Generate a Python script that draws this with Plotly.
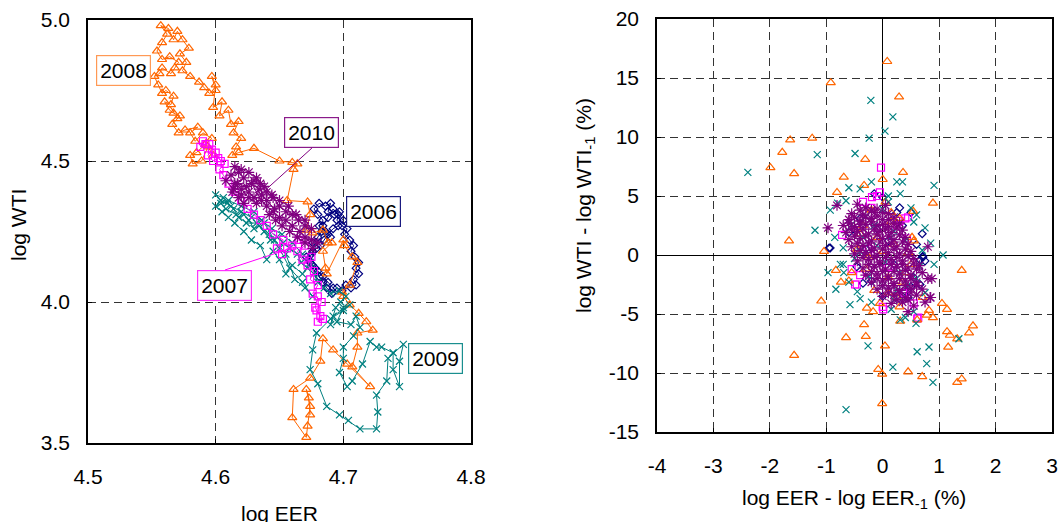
import plotly.graph_objects as go

# ---------------- data ----------------
# Left panel: daily (log EER, log WTI) paths, one per year
path_2006 = [(4.692,4.05),(4.688,4.07),(4.684,4.09),(4.680,4.11),(4.676,4.13),(4.673,4.15),(4.675,4.17),
             (4.679,4.19),(4.676,4.21),(4.680,4.23),(4.683,4.25),(4.681,4.27),(4.684,4.29),(4.680,4.31),
             (4.677,4.33),(4.681,4.35),(4.686,4.34),(4.690,4.35),(4.688,4.32),(4.693,4.31),(4.697,4.32),
             (4.695,4.29),(4.699,4.27),(4.703,4.26),(4.701,4.24),(4.705,4.22),(4.708,4.20),(4.706,4.18),
             (4.709,4.16),(4.712,4.14),(4.710,4.12),(4.712,4.10),(4.708,4.08),(4.710,4.06),(4.706,4.05),
             (4.702,4.06),(4.699,4.04),(4.695,4.05),(4.691,4.03),(4.687,4.05),(4.684,4.07),(4.681,4.09),
             (4.678,4.12),(4.674,4.14),(4.671,4.16),(4.676,4.18),(4.682,4.20),(4.685,4.22),(4.688,4.24),
             (4.692,4.26),(4.696,4.27),(4.700,4.29),(4.696,4.31),(4.692,4.33),(4.688,4.30),(4.684,4.27),
             (4.686,4.25),(4.690,4.23)]

path_2007 = [(4.680,4.02),(4.678,3.98),(4.682,3.95),(4.680,3.93),(4.684,3.94),(4.679,3.97),(4.683,4.00),
             (4.676,4.03),(4.680,4.06),(4.674,4.08),(4.677,4.11),(4.672,4.13),(4.675,4.16),(4.668,4.15),
             (4.664,4.18),(4.670,4.20),(4.665,4.22),(4.660,4.20),(4.656,4.19),(4.652,4.17),(4.648,4.19),
             (4.653,4.22),(4.645,4.24),(4.640,4.27),(4.635,4.29),(4.630,4.31),(4.625,4.33),(4.620,4.36),
             (4.615,4.39),(4.610,4.42),(4.606,4.45),(4.603,4.47),(4.607,4.49),(4.602,4.51),(4.598,4.50),
             (4.594,4.52),(4.597,4.54),(4.592,4.56),(4.588,4.55),(4.590,4.57),(4.595,4.56),(4.600,4.53),
             (4.604,4.50)]

path_2008 = [(4.598,4.52),(4.594,4.55),(4.589,4.50),(4.582,4.49),(4.580,4.52),(4.585,4.53),(4.592,4.56),
             (4.597,4.58),(4.590,4.60),(4.584,4.57),(4.580,4.60),(4.586,4.62),(4.576,4.61),(4.571,4.60),
             (4.566,4.63),(4.570,4.65),(4.572,4.66),(4.567,4.67),(4.564,4.68),(4.560,4.71),(4.565,4.70),
             (4.567,4.73),(4.561,4.75),(4.558,4.74),(4.555,4.77),(4.552,4.80),(4.556,4.81),(4.558,4.83),
             (4.565,4.81),(4.568,4.83),(4.571,4.85),(4.564,4.87),(4.558,4.86),(4.554,4.89),(4.558,4.92),
             (4.562,4.95),(4.557,4.98),(4.563,4.97),(4.567,4.93),(4.570,4.96),(4.574,4.93),(4.579,4.90),
             (4.572,4.88),(4.577,4.85),(4.574,4.82),(4.580,4.80),(4.587,4.78),(4.591,4.76),(4.595,4.74),
             (4.600,4.75),(4.597,4.80),(4.600,4.77),(4.598,4.69),(4.605,4.71),(4.603,4.66),(4.610,4.68),
             (4.612,4.63),(4.618,4.64),(4.614,4.60),(4.620,4.58),(4.616,4.55),(4.613,4.52),(4.618,4.53),
             (4.630,4.545),(4.650,4.50),(4.660,4.495),(4.664,4.49),(4.661,4.47),(4.656,4.36),(4.672,4.355),
             (4.674,4.31),(4.671,4.255),(4.676,4.245),(4.684,4.255),(4.688,4.21),(4.691,4.21),(4.684,4.18),
             (4.686,4.12),(4.687,4.10),(4.700,4.22),(4.701,4.20),(4.707,4.16),(4.711,4.14),(4.705,4.06),
             (4.699,4.035),(4.700,4.02),(4.705,3.99),(4.712,3.96),(4.718,3.93),(4.723,3.90),(4.711,3.89),
             (4.711,3.84),(4.707,3.77),(4.721,3.70),(4.703,3.78),(4.692,3.83),(4.684,3.87),(4.682,3.79),
             (4.674,3.73),(4.661,3.69),(4.660,3.59),(4.671,3.52),(4.672,3.56),(4.674,3.63),(4.671,3.69),
             (4.673,3.66),(4.674,3.60)]

path_2009 = [(4.700,3.97),(4.690,3.94),(4.679,3.89),(4.676,3.83),(4.674,3.76),(4.680,3.71),(4.687,3.63),
             (4.697,3.60),(4.704,3.58),(4.713,3.55),(4.726,3.55),(4.727,3.61),(4.726,3.67),(4.734,3.72),
             (4.735,3.80),(4.747,3.85),(4.744,3.79),(4.744,3.70),(4.739,3.76),(4.739,3.82),(4.730,3.84),
             (4.726,3.84),(4.721,3.86),(4.715,3.78),(4.707,3.72),(4.703,3.70),(4.697,3.75),(4.700,3.80),
             (4.700,3.84),(4.708,3.88),(4.713,3.91),(4.710,3.95),(4.706,3.92),(4.695,3.93),(4.700,3.98),
             (4.705,3.99),(4.692,3.95),(4.690,3.92),(4.694,3.98),(4.698,4.00),(4.702,4.02),(4.697,4.04),
             (4.690,4.03),(4.685,4.05),(4.680,4.07),(4.677,4.10),(4.672,4.12),(4.667,4.14),(4.664,4.17),
             (4.658,4.19),(4.653,4.21),(4.648,4.23),(4.643,4.22),(4.638,4.25),(4.634,4.27),(4.630,4.26),
             (4.626,4.29),(4.622,4.31),(4.618,4.30),(4.614,4.33),(4.609,4.35),(4.604,4.36),(4.600,4.38),
             (4.606,4.37),(4.612,4.34),(4.620,4.32),(4.628,4.30),(4.636,4.29),(4.644,4.26),(4.652,4.24),
             (4.660,4.21),(4.668,4.17),(4.674,4.14),(4.668,4.10),(4.660,4.13),(4.655,4.10),(4.650,4.15),
             (4.645,4.18),(4.640,4.15),(4.635,4.20),(4.628,4.22),(4.622,4.25),(4.615,4.28),(4.610,4.30),
             (4.605,4.32),(4.600,4.34),(4.610,4.36),(4.620,4.34),(4.630,4.32),(4.638,4.28),(4.646,4.22),
             (4.655,4.17),(4.662,4.08),(4.670,4.05),(4.676,4.02),(4.668,4.07),(4.658,4.12),(4.650,4.19),
             (4.642,4.24),(4.632,4.28),(4.624,4.28),(4.616,4.31),(4.608,4.33),(4.604,4.35)]

path_2010 = [(4.620,4.40),(4.615,4.42),(4.622,4.44),(4.618,4.46),(4.612,4.45),(4.608,4.43),(4.614,4.40),
             (4.620,4.38),(4.626,4.39),(4.630,4.37),(4.634,4.40),(4.628,4.42),(4.636,4.36),(4.640,4.34),
             (4.645,4.32),(4.650,4.30),(4.655,4.29),(4.660,4.27),(4.666,4.25),(4.670,4.23),(4.675,4.22),
             (4.680,4.21),(4.676,4.19),(4.670,4.21),(4.664,4.23),(4.658,4.25),(4.652,4.27),(4.647,4.29),
             (4.642,4.31),(4.646,4.33),(4.640,4.36),(4.636,4.38),(4.632,4.35),(4.626,4.37),(4.622,4.35),
             (4.618,4.37),(4.613,4.39),(4.617,4.42),(4.624,4.41),(4.630,4.43),(4.635,4.42),(4.640,4.39),
             (4.645,4.37),(4.650,4.34),(4.655,4.32),(4.660,4.31),(4.665,4.29),(4.670,4.27),(4.675,4.26),
             (4.670,4.29),(4.663,4.31),(4.657,4.34),(4.650,4.36),(4.644,4.38),(4.638,4.41),(4.632,4.44),
             (4.626,4.46),(4.620,4.47),(4.615,4.48)]

# Right panel: daily changes (dlog EER %, dlog WTI %)
chg_2006 = [(-0.95,0.6),(0.71,-0.1),(0.66,-2.5),(0.45,-3.6),(0.71,-0.2),(-0.93,0.6),(0.25,3.6),(-0.49,2.1),
            (-0.35,-2.4),(0.66,-0.4),(-0.46,-1.0),(0.00,4.9),(-0.60,1.9),(-0.40,3.1),(0.30,4.0),(0.50,3.6),
            (0.70,1.8),(0.60,0.9),(0.75,-0.5),(0.55,-1.9),(0.40,-3.1),(-0.20,-2.2),(-0.30,0.5),(0.10,1.2),
            (0.20,-0.8),(-0.10,2.2),(0.35,2.5),(0.00,-3.5),(0.50,-2.7),(-0.15,5.2)]

chg_2007 = [(-0.03,7.4),(-0.19,4.9),(-0.05,5.3),(0.40,3.1),(0.25,2.5),(0.43,1.4),(-0.40,-1.7),(-0.49,-2.5),
            (-0.72,1.7),(0.00,-4.4),(0.40,-3.2),(0.63,-5.3),(0.25,-3.6),(0.01,-4.6),(0.36,-3.2),(-0.46,-2.5),
            (0.61,-5.4),(-0.35,4.5),(-0.20,4.0),(0.45,3.2),(0.55,-4.1),(-0.25,0.5),(0.10,-1.0),(0.30,2.9),
            (-0.55,-1.2),(-0.10,5.0)]

chg_2008 = [(0.08,16.4),(-0.92,14.6),(0.29,13.4),(-1.64,9.75),(-1.25,9.9),(-1.78,8.7),(-1.99,7.4),(-1.57,6.9),
            (-0.31,8.1),(-0.69,6.6),(-0.81,5.3),(0.36,7.0),(0.89,4.4),(0.00,6.4),(-0.33,5.9),(-1.66,1.2),
            (-1.04,0.3),(0.54,3.7),(0.52,1.5),(1.40,-1.3),(-1.09,-3.9),(-1.57,-8.5),(-0.65,-7.0),(-0.33,-5.9),
            (-0.30,-6.9),(0.04,-7.7),(-0.08,-9.7),(-0.01,-10.1),(-0.01,-12.6),(0.45,-9.9),(0.70,-10.3),
            (1.32,-10.8),(1.40,-10.5),(1.16,-7.8),(1.14,-6.5),(1.19,-6.8),(1.32,-7.1),(1.53,-6.6),(1.60,-6.0),
            (1.05,-4.1),(1.14,-4.6),(0.82,-4.7),(0.89,-5.3),(0.78,-5.1),(0.31,-5.6),(0.61,-5.5),(0.71,-3.6),
            (-0.74,-2.3),(-0.83,-1.3),(-0.28,-4.5),(-0.17,-4.8),
            (-0.20,3.8),(0.05,4.5),(-0.35,2.5),(0.15,2.8),(0.30,3.1),(-0.10,1.5),(0.20,0.9),(-0.45,0.5),
            (0.45,0.2),(-0.55,-1.5),(-0.30,-1.2),(0.10,-1.9),(0.35,-2.3),(-0.15,-3.0),(0.25,-3.6),(-0.05,-4.1),
            (0.50,-0.8),(0.00,0.3),(-0.25,-0.2),(0.40,-1.5),(0.55,1.2),(-0.40,1.8),(0.10,-3.2),(0.15,3.6),
            (-0.60,-2.2),(0.30,-4.4)]

chg_2009 = [(-2.39,7.0),(-0.21,13.1),(0.18,11.7),(0.04,10.5),(-0.24,9.9),(-1.16,8.5),(-0.49,8.6),(0.91,5.9),
            (0.25,6.2),(0.31,5.2),(-0.60,5.7),(-1.20,2.1),(-0.93,3.8),(1.07,0.0),(-0.65,-13.1),(0.89,-10.8),
            (0.78,-9.2),(0.18,-9.5),(0.61,-8.2),(0.82,-7.8),(-0.26,-7.7),(1.35,-7.1),(0.59,-5.8),(0.31,-5.5),
            (-0.58,-4.2),(-0.40,-3.7),(-0.83,-2.9),(-0.97,-1.5),(-0.69,-1.5),(-0.70,-0.8),(0.91,-0.8),
            (-0.80,4.4),(-0.65,4.6),(-0.40,5.6),(-0.20,6.2),(0.10,5.0),(0.35,6.2),(0.50,4.0),(0.60,3.4),
            (0.75,2.3),(0.85,1.0),(0.70,0.4),(0.60,-2.0),(0.75,-3.2),(0.55,-4.8),(0.40,-5.3),(0.15,-4.6),
            (-0.20,-4.0),(-0.45,-3.1),(-0.60,-2.3),(-0.75,-0.8),(-0.70,0.6),(-0.85,1.5),(-0.55,2.6),
            (-0.30,3.3),(0.00,3.9),(0.20,2.0),(0.40,1.2),(-0.10,0.8),(0.05,-0.6),(0.30,-1.5),(-0.25,-1.8),
            (0.25,-3.0),(-0.35,1.5),(0.10,4.5),(0.55,2.8),(-0.50,-0.3),(0.45,-2.6),(0.20,-3.8),(-0.15,2.5),
            (0.65,-1.0),(0.35,-3.7),(0.00,-2.6),(-0.40,0.3),(0.15,1.5)]

chg_2010 = [(-0.97,2.3),(0.80,0.7),(0.87,-2.0),(0.84,-3.6),(-0.81,4.2),
            (-0.45,4.3),(-0.30,4.0),(-0.10,3.9),(0.05,4.2),(-0.55,3.5),(-0.35,3.4),(-0.15,3.6),(0.10,3.5),
            (-0.60,3.0),(-0.40,2.9),(-0.20,3.1),(0.00,3.0),(0.20,3.2),(-0.70,2.5),(-0.50,2.4),(-0.30,2.6),
            (-0.10,2.5),(0.10,2.4),(0.30,2.7),(-0.65,1.9),(-0.45,2.0),(-0.25,1.8),(-0.05,2.0),(0.15,1.9),
            (0.35,2.1),(-0.60,1.3),(-0.40,1.4),(-0.20,1.2),(0.00,1.4),(0.20,1.3),(0.40,1.5),(-0.55,0.7),
            (-0.35,0.8),(-0.15,0.6),(0.05,0.8),(0.25,0.7),(0.45,0.9),(-0.50,0.1),(-0.30,0.2),(-0.10,0.0),
            (0.10,0.2),(0.30,0.1),(0.50,0.3),(-0.45,-0.5),(-0.25,-0.4),(-0.05,-0.6),(0.15,-0.4),(0.35,-0.5),
            (0.55,-0.3),(-0.35,-1.1),(-0.15,-1.0),(0.05,-1.2),(0.25,-1.0),(0.45,-1.1),(0.65,-0.9),
            (-0.30,-1.7),(-0.10,-1.6),(0.10,-1.8),(0.30,-1.6),(0.50,-1.7),(0.70,-1.5),(-0.20,-2.3),
            (0.00,-2.2),(0.20,-2.4),(0.40,-2.2),(0.60,-2.3),(0.80,-2.0),(-0.10,-2.9),(0.10,-2.8),(0.30,-3.0),
            (0.50,-2.8),(0.70,-2.9),(0.00,-3.5),(0.20,-3.4),(0.40,-3.6),(0.60,-3.4),(0.85,-3.6),(0.15,-4.1),
            (0.35,-4.0),(0.55,-4.3),(0.75,-4.0),(0.45,-4.8),
            (-0.40,3.8),(-0.20,3.8),(0.00,3.6),(-0.50,3.2),(-0.30,3.2),(-0.10,3.3),(0.10,3.0),(-0.60,2.7),
            (-0.40,2.6),(-0.20,2.8),(0.00,2.6),(0.20,2.7),(-0.55,2.2),(-0.35,2.2),(-0.15,2.2),(0.05,2.2),
            (0.25,2.3),(-0.50,1.6),(-0.30,1.6),(-0.10,1.7),(0.10,1.6),(0.30,1.7),(-0.45,1.0),(-0.25,1.0),
            (-0.05,1.1),(0.15,1.0),(0.35,1.1),(-0.40,0.4),(-0.20,0.4),(0.00,0.5),(0.20,0.5),(0.40,0.5),
            (-0.35,-0.2),(-0.15,-0.2),(0.05,-0.2),(0.25,-0.2),(0.45,-0.1),(-0.25,-0.8),(-0.05,-0.8),
            (0.15,-0.8),(0.35,-0.8),(0.55,-0.7),(-0.20,-1.4),(0.00,-1.4),(0.20,-1.4),(0.40,-1.3),(0.60,-1.2),
            (-0.10,-2.0),(0.10,-2.0),(0.30,-2.0),(0.50,-2.0),(0.00,-2.6),(0.20,-2.6),(0.40,-2.6),(0.60,-2.6),
            (0.10,-3.2),(0.30,-3.2),(0.50,-3.2),(0.25,-3.8),(0.45,-3.8)]

left_xticks = [4.5, 4.6, 4.7, 4.8]
left_xtext = ["4.5", "4.6", "4.7", "4.8"]
left_yticks = [3.5, 4.0, 4.5, 5.0]
left_ytext = ["3.5", "4.0", "4.5", "5.0"]
right_xticks = [-4, -3, -2, -1, 0, 1, 2, 3]
right_xtext = ["-4", "-3", "-2", "-1", "0", "1", "2", "3"]
right_yticks = [-15, -10, -5, 0, 5, 10, 15, 20]
right_ytext = ["-15", "-10", "-5", "0", "5", "10", "15", "20"]

# label boxes: (year, text x, text y, arrow tip x, tip y)
labels = [("2008", 4.5278, 4.8227, None, None),
          ("2010", 4.6754, 4.546, 4.639, 4.397),
          ("2006", 4.724, 4.3227, None, None),
          ("2007", 4.6073, 4.1135, 4.662, 4.195),
          ("2009", 4.7722, 3.798, None, None)]

# ---------------- styling ----------------
FONT = "Liberation Sans, Arial, sans-serif"
style = {
    "2006": dict(color="#000080", symbol="diamond-open", size=6, box="#1a1a80"),
    "2007": dict(color="#FF00FF", symbol="square-open", size=7, box="#FF33FF"),
    "2008": dict(color="#FF6600", symbol="triangle-up-open", size=8, box="#FF9955"),
    "2009": dict(color="#008080", symbol="x-thin-open", size=7, box="#1a8f8f"),
    "2010": dict(color="#800080", symbol="asterisk-open", size=9, box="#8a1a8a"),
}
paths = {"2006": path_2006, "2007": path_2007, "2008": path_2008, "2009": path_2009, "2010": path_2010}
changes = {"2006": chg_2006, "2007": chg_2007, "2008": chg_2008, "2009": chg_2009, "2010": chg_2010}

fig = go.Figure()

for yr in ["2006", "2008", "2009", "2007", "2010"]:
    s = style[yr]
    xs = [p[0] for p in paths[yr]]
    ys = [p[1] for p in paths[yr]]
    fig.add_trace(go.Scatter(
        x=xs, y=ys, mode="lines+markers", name=yr, showlegend=False,
        line=dict(color=s["color"], width=1),
        marker=dict(symbol=s["symbol"], size=s["size"], color=s["color"],
                    line=dict(color=s["color"], width=1.2)),
        xaxis="x", yaxis="y"))

for yr in ["2006", "2007", "2008", "2009", "2010"]:
    s = style[yr]
    xs = [p[0] for p in changes[yr]]
    ys = [p[1] for p in changes[yr]]
    fig.add_trace(go.Scatter(
        x=xs, y=ys, mode="markers", name=yr, showlegend=False,
        marker=dict(symbol=s["symbol"], size=s["size"], color=s["color"],
                    line=dict(color=s["color"], width=1.2)),
        xaxis="x2", yaxis="y2"))

axis_common = dict(showgrid=True, gridcolor="#333333", gridwidth=1, griddash="8px,5px",
                   showline=True, mirror=True, linecolor="black", linewidth=1.5,
                   ticks="inside", ticklen=4, tickcolor="black", automargin=False,
                   tickfont=dict(family=FONT, size=21, color="black"),
                   tickmode="array")

fig.update_layout(
    template="none",
    width=1061, height=522,
    margin=dict(l=0, r=0, t=0, b=0, pad=0, autoexpand=False),
    paper_bgcolor="white", plot_bgcolor="white",
    font=dict(family=FONT, size=21, color="black"),
    xaxis=dict(domain=[88/1061, 471/1061], range=[4.5, 4.8], tickvals=left_xticks, ticktext=left_xtext,
               zeroline=False, anchor="y", ticklabelstandoff=14, **axis_common),
    yaxis=dict(domain=[1-443/522, 1-20/522], range=[3.5, 5.0], tickvals=left_yticks, ticktext=left_ytext,
               zeroline=False, anchor="x", ticklabelstandoff=12, **axis_common),
    xaxis2=dict(domain=[657/1061, 1052/1061], range=[-4, 3], tickvals=right_xticks, ticktext=right_xtext,
                zeroline=True, zerolinecolor="black", zerolinewidth=1, anchor="y2",
                ticklabelstandoff=14, **axis_common),
    yaxis2=dict(domain=[1-432/522, 1-19/522], range=[-15, 20], tickvals=right_yticks, ticktext=right_ytext,
                zeroline=True, zerolinecolor="black", zerolinewidth=1, anchor="x2",
                ticklabelstandoff=12, **axis_common),
)

annotations = []
for yr, tx, ty, px, py in labels:
    s = style[yr]
    a = dict(text=yr, xref="x", yref="y", font=dict(family=FONT, size=21, color="black"),
             bgcolor="white", bordercolor=s["box"], borderwidth=1.2, borderpad=3)
    if px is None:
        a.update(x=tx, y=ty, showarrow=False, xanchor="center", yanchor="middle")
    else:
        a.update(x=px, y=py, ax=tx, ay=ty, axref="x", ayref="y", showarrow=True,
                 arrowhead=0, arrowwidth=1, arrowcolor=s["color"],
                 yanchor="bottom" if yr == "2010" else "top")
    annotations.append(a)

# axis titles
annotations += [
    dict(text="log WTI", xref="paper", yref="paper", x=18/1061, y=1-225/522, showarrow=False,
         textangle=-90, font=dict(family=FONT, size=21), xanchor="center", yanchor="middle"),
    dict(text="log EER", xref="paper", yref="paper", x=279/1061, y=1-513/522, showarrow=False,
         font=dict(family=FONT, size=21), xanchor="center", yanchor="middle"),
    dict(text="log WTI - log WTI<sub>-1</sub> (%)", xref="paper", yref="paper", x=585/1061, y=1-206/522,
         showarrow=False, textangle=-90, font=dict(family=FONT, size=21), xanchor="center", yanchor="middle"),
    dict(text="log EER - log EER<sub>-1</sub> (%)", xref="paper", yref="paper", x=854/1061, y=1-499/522,
         showarrow=False, font=dict(family=FONT, size=21), xanchor="center", yanchor="middle"),
]
fig.update_layout(annotations=annotations)

fig.write_html("out.html", config={"displayModeBar": False},
               post_script="document.body.style.margin='0px';document.body.style.padding='0px';")
